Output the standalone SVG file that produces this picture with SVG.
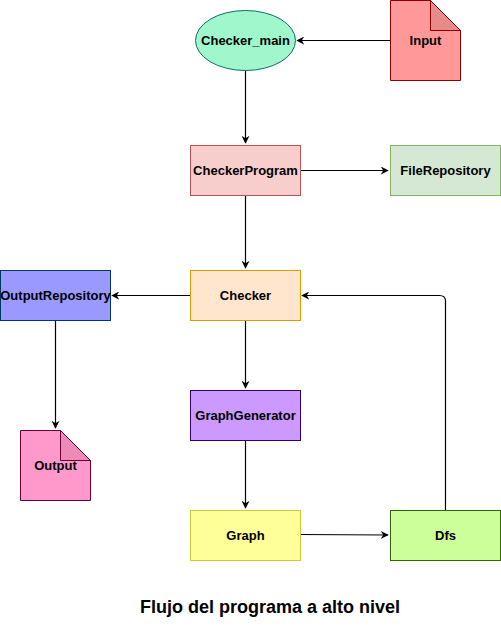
<svg xmlns="http://www.w3.org/2000/svg" width="501" height="631" viewBox="0 0 501 631">
<style>
text{font-family:"Liberation Sans",Arial,sans-serif;font-size:13px;font-weight:bold;fill:#000;text-anchor:middle;dominant-baseline:central}
.c{fill:none;stroke:#000;stroke-width:1.2}
</style>
<defs>
<marker id="a" viewBox="0 0 10 10" refX="9" refY="5" markerWidth="8" markerHeight="8" markerUnits="userSpaceOnUse" orient="auto">
<path d="M0,0 L10,5 L0,10 L3,5 Z" fill="#000"/>
</marker>
</defs>
<rect width="501" height="631" fill="#fff"/>
<g id="connectors">
<path class="c" d="M390,40.5 H297" marker-end="url(#a)"/>
<path class="c" d="M245.5,70 V143" marker-end="url(#a)"/>
<path class="c" d="M300,170.5 H388" marker-end="url(#a)"/>
<path class="c" d="M245.5,195 V268" marker-end="url(#a)"/>
<path class="c" d="M190,295.5 H112" marker-end="url(#a)"/>
<path class="c" d="M55.5,320 V428" marker-end="url(#a)"/>
<path class="c" d="M245.5,320 V388" marker-end="url(#a)"/>
<path class="c" d="M245.5,440 V508" marker-end="url(#a)"/>
<path class="c" d="M300,534.5 L388,535" marker-end="url(#a)"/>
<path class="c" d="M445.5,510 V301 Q445.5,295.5 439.5,295.5 H302" marker-end="url(#a)"/>
</g>
<g id="checker_main">
<ellipse cx="245.5" cy="40.5" rx="50" ry="30" fill="#9ff7cb" stroke="#0e6b6b"/>
<text x="245.5" y="40.5">Checker_main</text>
</g>
<g id="input">
<path d="M390.5,0.5 H430.5 L460.5,30.5 V80.5 H390.5 Z" fill="#ff9999" stroke="#8b0000"/>
<path d="M430.5,0.5 V30.5 H460.5 Z" fill="#e68a8a" stroke="#8b0000"/>
<text x="425.5" y="40.5">Input</text>
</g>
<g id="checkerprogram">
<rect x="190.5" y="145.5" width="110" height="50" fill="#f8cecc" stroke="#b85450"/>
<text x="245.5" y="170.5">CheckerProgram</text>
</g>
<g id="filerepository">
<rect x="390.5" y="145.5" width="110" height="50" fill="#d5e8d4" stroke="#82b366"/>
<text x="445.5" y="170.5">FileRepository</text>
</g>
<g id="outputrepository">
<rect x="0.5" y="270.5" width="110" height="50" fill="#9999ff" stroke="#003366"/>
<text x="55.5" y="295.5">OutputRepository</text>
</g>
<g id="checker">
<rect x="190.5" y="270.5" width="110" height="50" fill="#ffe6cc" stroke="#d79b00"/>
<text x="245.5" y="295.5">Checker</text>
</g>
<g id="output">
<path d="M20.5,430.5 H60.5 L90.5,460.5 V500.5 H20.5 Z" fill="#ff99cc" stroke="#660033"/>
<path d="M60.5,430.5 V460.5 H90.5 Z" fill="#ee8ab8" stroke="#660033"/>
<text x="55.5" y="465.5">Output</text>
</g>
<g id="graphgenerator">
<rect x="190.5" y="390.5" width="110" height="50" fill="#cc99ff" stroke="#330066"/>
<text x="245.5" y="415.5">GraphGenerator</text>
</g>
<g id="graph">
<rect x="190.5" y="510.5" width="110" height="50" fill="#ffff99" stroke="#cccc33"/>
<text x="245.5" y="535.5">Graph</text>
</g>
<g id="dfs">
<rect x="390.5" y="510.5" width="110" height="50" fill="#ccff99" stroke="#336600"/>
<text x="445.5" y="535.5">Dfs</text>
</g>
<text x="270" y="607" style="font-size:18px">Flujo del programa a alto nivel</text>
</svg>
